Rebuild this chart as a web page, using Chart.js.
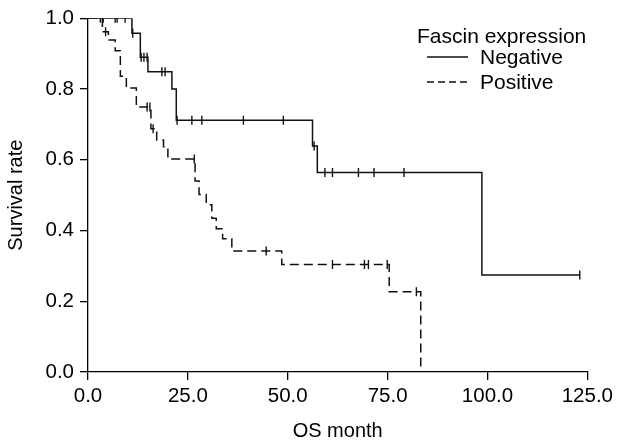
<!DOCTYPE html>
<html>
<head>
<meta charset="utf-8">
<script src="https://cdn.jsdelivr.net/npm/chart.js@4.4.1/dist/chart.umd.min.js"></script>
<style>
  html, body { margin: 0; padding: 0; background: #fff; }
</style>
</head>
<body>
<canvas id="km" width="617" height="441"></canvas>
<script>
// Kaplan-Meier curves (time in months, survival rate)
const negTime = [0, 11, 13.1, 15, 21, 22.1, 56.2, 57.4, 98.6, 123.1];
const negSurv = [1, 0.958, 0.89, 0.849, 0.80, 0.712, 0.639, 0.564, 0.274, 0.274];
const negCensorTime = [3.1, 3.8, 6.8, 7.3, 9.3, 11.2, 13.3, 14.0, 14.8, 18.5, 19.3,
                       22.3, 26, 28.5, 38.9, 48.9, 56.6, 59.3, 61.2, 67.7, 71.6, 79.1, 123.1];
const negCensorSurv = [1, 1, 1, 1, 1, 0.958, 0.89, 0.89, 0.89, 0.849, 0.849,
                       0.712, 0.712, 0.712, 0.712, 0.712, 0.639, 0.564, 0.564, 0.564, 0.564, 0.564, 0.274];

const posTime = [0, 3.6, 5.1, 6.8, 8.1, 9.6, 12.1, 15.75, 17.2, 18.9, 20, 26.8, 27.8,
                 29.6, 31, 32.1, 33.7, 36, 48.5, 75.4, 83.3];
const posSurv = [1, 0.962, 0.939, 0.908, 0.836, 0.803, 0.749, 0.688, 0.656, 0.637, 0.602, 0.54, 0.502,
                 0.473, 0.435, 0.405, 0.377, 0.342, 0.304, 0.227, 0];
const posCensorTime = [4.4, 14.8, 15.5, 16.3, 26.6, 44.6, 61.2, 69.2, 70.2, 74.9, 82.2];
const posCensorSurv = [0.962, 0.749, 0.749, 0.688, 0.602, 0.342, 0.304, 0.304, 0.304, 0.304, 0.227];

const xTicks = [0, 25, 50, 75, 100, 125];
const yTicks = [0, 0.2, 0.4, 0.6, 0.8, 1.0];
const groupNames = ['Negative', 'Positive'];
const legendTitle = 'Fascin expression';

const FONT = '"Liberation Sans", Arial, sans-serif';
Chart.defaults.font.family = FONT;
Chart.defaults.font.size = 20;
Chart.defaults.color = '#000';

const toPts = (xs, ys) => xs.map((x, i) => ({ x, y: ys[i] }));
const ink = '#111';

// legend drawn inside the plot, top right, like the original
const legendBox = {
  id: 'legendBox',
  afterDraw(chart) {
    const ctx = chart.ctx;
    ctx.save();
    ctx.font = '21px ' + FONT;
    ctx.fillStyle = '#000';
    ctx.textBaseline = 'alphabetic';
    ctx.fillText(legendTitle, 417, 43);
    chart.data.datasets.filter(d => d.showLine !== false).forEach((d, i) => {
      const y = 57 + i * 25;
      ctx.beginPath();
      ctx.setLineDash(d.borderDash && d.borderDash.length ? [7, 4] : []);
      ctx.lineWidth = 1.4;
      ctx.strokeStyle = ink;
      ctx.moveTo(427, y);
      ctx.lineTo(468, y);
      ctx.stroke();
      ctx.setLineDash([]);
      ctx.textBaseline = 'middle';
      ctx.fillText(d.label, 480, y + 1);
    });
    ctx.restore();
  }
};

const curve = (label, xs, ys, dash) => ({
  label, data: toPts(xs, ys), stepped: 'before', borderColor: ink, borderWidth: 1.5,
  borderDash: dash, pointRadius: 0, fill: false, tension: 0
});
const censor = (xs, ys) => ({
  data: toPts(xs, ys), showLine: false, pointStyle: 'line', rotation: 90,
  pointRadius: 4.5, pointBorderWidth: 1.4, pointBorderColor: ink, pointBackgroundColor: ink
});

const axisGrid = { display: true, drawOnChartArea: false, drawTicks: true, tickLength: 8, color: '#000', lineWidth: 1.3 };
const axisBorder = { display: true, color: '#000', width: 1.3 };

new Chart(document.getElementById('km').getContext('2d'), {
  type: 'line',
  data: {
    datasets: [
      curve(groupNames[0], negTime, negSurv, []),
      curve(groupNames[1], posTime, posSurv, [9, 5]),
      censor(negCensorTime, negCensorSurv),
      censor(posCensorTime, posCensorSurv)
    ]
  },
  options: {
    responsive: false,
    animation: false,
    layout: { padding: { top: 16, right: 29, left: 0, bottom: 0 } },
    plugins: { legend: { display: false }, tooltip: { enabled: false } },
    scales: {
      x: {
        type: 'linear', min: 0, max: 125,
        afterBuildTicks: s => { s.ticks = xTicks.map(v => ({ value: v })); },
        afterFit: s => { s.height = 69; },
        ticks: { callback: v => v.toFixed(1), padding: 4, maxRotation: 0, font: { size: 20.5 } },
        grid: axisGrid, border: axisBorder,
        title: { display: true, text: 'OS month', padding: { top: 4, bottom: -2 } }
      },
      y: {
        min: 0, max: 1,
        afterBuildTicks: s => { s.ticks = yTicks.map(v => ({ value: v })); },
        afterFit: s => { s.width = 88; },
        ticks: { callback: v => v.toFixed(1), padding: 6, font: { size: 20.5 } },
        grid: axisGrid, border: axisBorder,
        title: { display: true, text: 'Survival rate', padding: { top: 4, bottom: 0 } }
      }
    }
  },
  plugins: [legendBox]
});
</script>
</body>
</html>
